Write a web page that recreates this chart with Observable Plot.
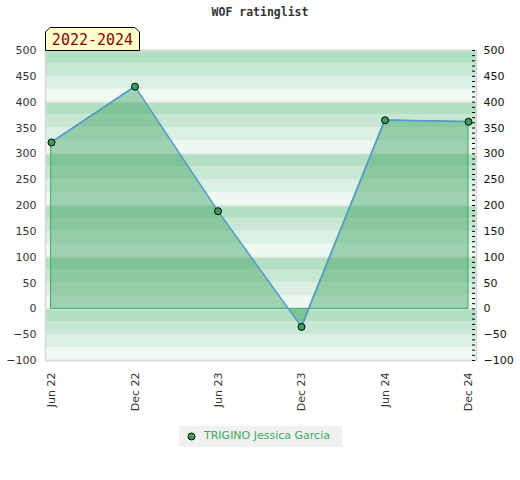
<!DOCTYPE html>
<html>
<head>
<meta charset="utf-8">
<script src="https://cdn.jsdelivr.net/npm/d3@7"></script>
<script src="https://cdn.jsdelivr.net/npm/@observablehq/plot@0.6"></script>
<style>
  html, body { margin: 0; padding: 0; background: #fff; }
  #wrap { position: relative; width: 520px; height: 480px; overflow: hidden; }
  #chart { position: absolute; left: 0; top: 0; }
  #title { position: absolute; left: 0; width: 520px; top: 5px; text-align: center;
    font: bold 11.5px "DejaVu Sans Mono", monospace; color: #333; }
  #badge { position: absolute; left: 45px; top: 27px; }
  #legend { position: absolute; left: 179px; top: 426px; width: 163px; height: 21px; background: #f0f0f0; }
  #legend .dot { position: absolute; left: 188px; }
  #legend span.txt { position: absolute; left: 25px; top: 3px; font: 11px "DejaVu Sans", sans-serif; color: #3aaa5e; white-space: nowrap; }
</style>
</head>
<body>
<div id="wrap">
  <div id="chart"></div>
  <div id="title"></div>
  <svg id="badge" width="96" height="24"></svg>
  <div id="legend"></div>
</div>
<script>
const titleText = "WOF ratinglist";
const periodLabel = "2022-2024";
const playerName = "TRIGINO Jessica Garcia";
const dates = ["2022-06-01", "2022-12-01", "2023-06-01", "2023-12-01", "2024-06-01", "2024-12-01"];
const tickLabels = ["Jun 22", "Dec 22", "Jun 23", "Dec 23", "Jun 24", "Dec 24"];
const ratings = [322, 430, 189, -35, 365, 362];
const yTicks = [-100, -50, 0, 50, 100, 150, 200, 250, 300, 350, 400, 450, 500];
const gridLines = [-100, 0, 100, 200, 300, 400, 500];
const stripeColors = ["#b3dfc3", "#c8e7d5", "#dcefe4", "#eff8f2"];

const data = dates.map((d, i) => ({date: new Date(d), rating: ratings[i], label: tickLabels[i]}));
const stripes = d3.range(-100, 500, 25).map(v => ({y1: v, y2: v + 25, k: ((500 - (v + 25)) / 25) % 4}));
const tickDates = dates.map(d => new Date(d));
const labelOf = new Map(dates.map((d, i) => [+new Date(d), tickLabels[i]]));

const chart = Plot.plot({
  width: 520,
  height: 420,
  marginTop: 50,
  marginBottom: 60,
  marginLeft: 45,
  marginRight: 44,
  style: {fontFamily: "DejaVu Sans", fontSize: "11px", color: "#333", background: "transparent"},
  x: {type: "utc", domain: [tickDates[0], tickDates[tickDates.length - 1]], insetLeft: 6, insetRight: 8},
  y: {domain: [-100, 500]},
  marks: [
    Plot.rect(stripes, {y1: "y1", y2: "y2", fill: d => stripeColors[d.k]}),
    Plot.ruleY(gridLines, {stroke: "#e4e8e5", strokeWidth: 1.5}),
    Plot.frame({stroke: "#d8d8d8", strokeWidth: 1.5}),
    Plot.areaY(data, {x: "date", y: "rating", fill: "#3da35f", fillOpacity: 0.45, stroke: "#3aaa5e", strokeWidth: 1}),
    Plot.line(data, {x: "date", y: "rating", stroke: "#5b9bd5", strokeWidth: 1.5}),
    Plot.dot(data, {x: "date", y: "rating", r: 3.5, fill: "#3a9f5e", stroke: "#000", strokeWidth: 1}),
    Plot.axisX({ticks: tickDates, tickFormat: d => labelOf.get(+d), tickRotate: -90, tickSize: 0, tickPadding: 12, label: null, fill: "#333"}),
    Plot.axisY({anchor: "left", ticks: yTicks, tickSize: 0, tickPadding: 9, label: null, fill: "#333"}),
    Plot.axisY({anchor: "right", ticks: d3.range(-100, 501, 10), tickSize: 3, tickFormat: () => "", dx: -5, label: null, stroke: "#000"}),
    Plot.axisY({anchor: "right", ticks: yTicks, tickSize: 0, tickPadding: 7, label: null, fill: "#111"})
  ]
});
document.getElementById("chart").appendChild(chart);
document.getElementById("title").textContent = titleText;

// period badge
const badge = d3.select("#badge");
badge.append("polygon")
  .attr("points", "0.5,23.5 0.5,5 5,0.5 90,0.5 94.5,5 94.5,23.5")
  .attr("fill", "#ffffcc").attr("stroke", "#000").attr("stroke-width", 1);
badge.append("text")
  .attr("x", 47.5).attr("y", 18).attr("text-anchor", "middle")
  .attr("font-family", "DejaVu Sans Mono").attr("font-size", 15).attr("fill", "#8b0000")
  .text(periodLabel);

// legend
const legend = d3.select("#legend");
const ls = legend.append("svg").attr("width", 20).attr("height", 21).style("position", "absolute").style("left", "6px").style("top", "0px");
ls.append("circle").attr("cx", 6.5).attr("cy", 10.5).attr("r", 3.5).attr("fill", "#3a9f5e").attr("stroke", "#000");
legend.append("span").attr("class", "txt").text(playerName);
</script>
</body>
</html>
